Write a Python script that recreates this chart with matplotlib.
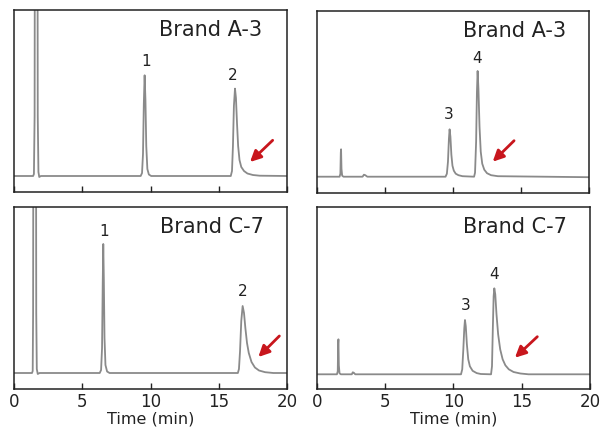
import matplotlib
matplotlib.use("Agg")
import matplotlib.pyplot as plt

# chromatogram traces (time in min, signal in arbitrary units, baseline = 0)
tl_time = [0.0, 1.40, 1.46, 1.51, 1.54, 1.71, 1.74, 1.79, 1.85, 1.97,
           9.28, 9.38, 9.45, 9.51, 9.57, 9.63, 9.69, 9.77, 9.88, 10.05,
           15.88, 15.97, 16.04, 16.11, 16.19, 16.26, 16.34, 16.42, 16.52, 16.65, 16.85, 17.10, 17.50, 18.00, 20.0]
tl_signal = [0, 0, 2, 60, 400, 400, 60, 4, -1, 0,
             0, 3, 22, 72, 100.7, 76, 30, 7, 1.5, 0,
             0, 5, 30, 70, 87.4, 78, 52, 30, 16, 9, 5, 2.5, 1, 0.3, 0]

tr_time = [0.0, 1.66, 1.72, 1.75, 1.77, 1.80, 1.85, 1.95, 3.35, 3.45, 3.55, 3.70,
           9.45, 9.55, 9.63, 9.70, 9.75, 9.81, 9.88, 9.96, 10.06, 10.20, 10.40, 10.70,
           11.55, 11.62, 11.70, 11.76, 11.81, 11.87, 11.95, 12.04, 12.15, 12.30, 12.50, 12.80, 13.30, 20.0]
tr_signal = [0, 0, 3, 24, 27.4, 8, 1, 0, 0, 2, 1.5, 0,
             0, 3, 15, 38, 47.4, 40, 22, 11, 6, 3, 1.5, 0.5,
             0, 4, 35, 85, 105.7, 88, 50, 25, 13, 7, 3.5, 1.5, 0.5, -0.5]

bl_time = [0.0, 1.32, 1.37, 1.40, 1.43, 1.60, 1.63, 1.67, 1.74, 1.87,
           6.28, 6.38, 6.45, 6.50, 6.54, 6.58, 6.63, 6.70, 6.82, 7.00,
           16.40, 16.48, 16.56, 16.65, 16.75, 16.85, 16.95, 17.07, 17.20, 17.40, 17.65, 17.95, 18.40, 19.00, 20.0]
bl_signal = [0, 0, 2, 60, 400, 400, 60, 4, -1, 0,
             0, 3, 25, 90, 129, 95, 35, 8, 1.5, 0,
             0, 4, 22, 52, 67, 60, 45, 30, 20, 11, 5.5, 2.5, 0.8, 0, 0]

br_time = [0.0, 1.46, 1.52, 1.55, 1.57, 1.60, 1.65, 1.75, 2.55, 2.62, 2.70, 2.80,
           10.55, 10.64, 10.72, 10.79, 10.84, 10.90, 10.98, 11.08, 11.20, 11.40, 11.70, 12.00,
           12.75, 12.82, 12.88, 12.94, 12.99, 13.06, 13.15, 13.27, 13.42, 13.60, 13.80, 14.05, 14.40, 14.90, 15.50, 20.0]
br_signal = [0, 0, 3, 31, 35, 9, 1, 0, 0, 2, 1.5, 0,
             0, 5, 25, 46, 54.3, 48, 30, 15, 8, 3.5, 1.2, 0.3,
             0, 8, 45, 78, 86, 80, 60, 40, 25, 15, 9, 5, 2.3, 0.8, 0, 0]

titles = ["Brand A-3", "Brand A-3", "Brand C-7", "Brand C-7"]
title_pos = [(18.2, 146), (18.35, 146), (18.27, 146), (18.3, 147.5)]

peak_labels = [["1", "2"], ["3", "4"], ["1", "2"], ["3", "4"]]
peak_label_pos = [[(9.65, 115), (16.05, 101)],
                  [(9.7, 62), (11.8, 118)],
                  [(6.62, 142), (16.75, 81)],
                  [(10.9, 69), (13.0, 100)]]

# arrow (head, tail) in data units
arrows = [((17.29, 14), (18.95, 35.7)),
          ((12.92, 15), (14.49, 36)),
          ((17.9, 16), (19.44, 37)),
          ((14.5, 16.6), (16.14, 37.6))]

traces = [(tl_time, tl_signal), (tr_time, tr_signal), (bl_time, bl_signal), (br_time, br_signal)]
ylims = [(-16, 166), (-16.3, 165.7), (-16, 166), (-14.7, 167.3)]

# axes boxes in pixels: left, top, right, bottom
boxes = [(14, 10, 287, 192), (317, 11, 589, 193), (14, 207, 287, 389), (317, 207, 590, 389)]

W, H = 602, 428
fig = plt.figure(figsize=(W / 100, H / 100), dpi=100)

line_col = "#8a8a8a"
red = "#c8161d"

for i in range(4):
    l, t, r, b = boxes[i]
    ax = fig.add_axes([l / W, (H - b) / H, (r - l) / W, (b - t) / H])
    x, y = traces[i]
    ax.plot(x, y, color=line_col, lw=1.3, solid_joinstyle="round")
    ax.set_xlim(0, 20)
    ax.set_ylim(*ylims[i])
    ax.set_yticks([])
    ax.set_xticks([0, 5, 10, 15, 20])
    ax.tick_params(axis="x", direction="in", length=4, width=1, colors="#222222",
                   labelsize=12, pad=3)
    if i < 2:
        ax.tick_params(axis="x", labelbottom=False)
    else:
        ax.set_xlabel("Time (min)", fontsize=11.5, labelpad=0.5, color="#222222")
    for s in ax.spines.values():
        s.set_linewidth(1.1)
        s.set_color("#222222")

    ax.text(title_pos[i][0], title_pos[i][1], titles[i], ha="right", va="center",
            fontsize=15, color="#222222")
    for lab, (px, py) in zip(peak_labels[i], peak_label_pos[i]):
        ax.text(px, py, lab, ha="center", va="center", fontsize=11, color="#222222")

    head, tail = arrows[i]
    ax.annotate("", xy=head, xytext=tail,
                arrowprops=dict(arrowstyle="-|>,head_length=0.65,head_width=0.32",
                                color=red, lw=2, shrinkA=0, shrinkB=0))

fig.savefig("out.png", dpi=100)
